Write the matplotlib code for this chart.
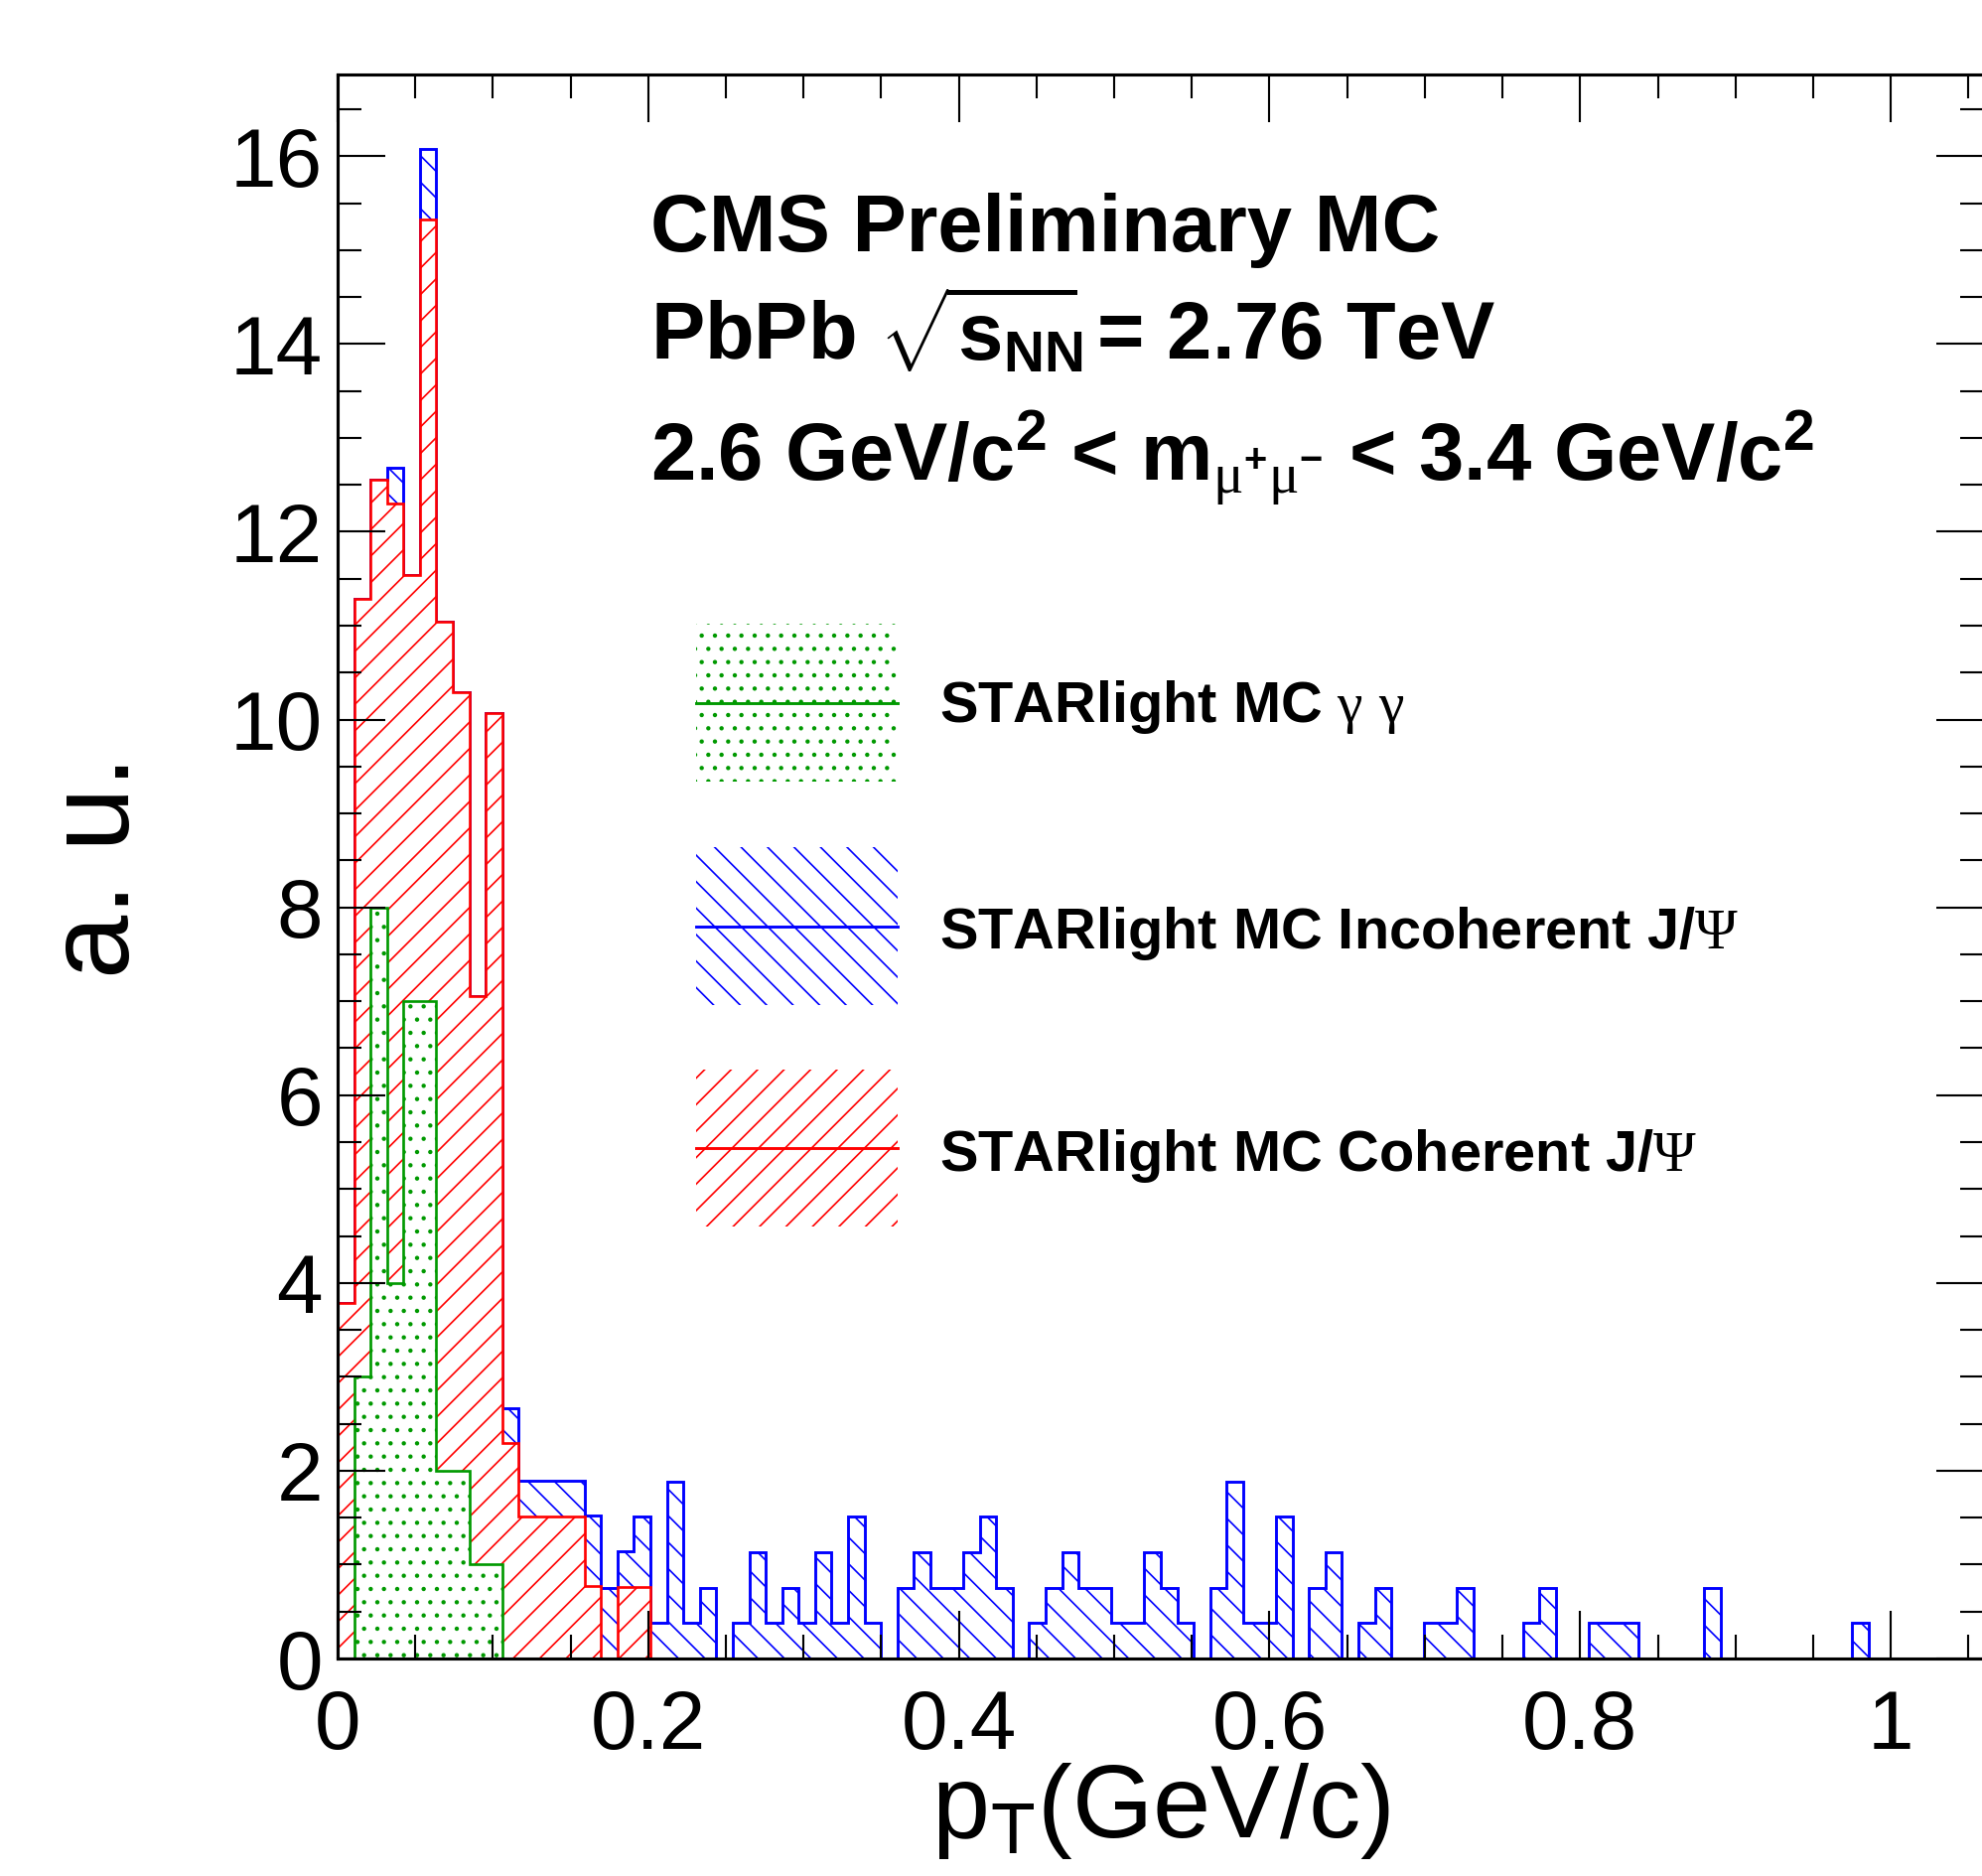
import numpy as np
import matplotlib
matplotlib.use("Agg")
import matplotlib.pyplot as plt
from matplotlib.patches import Rectangle
from matplotlib.lines import Line2D
from matplotlib.ticker import FixedLocator, MultipleLocator

# ---------------- data ----------------
n_bins = 100
pt_min, pt_max = 0.0, 1.06
bin_edges = np.linspace(pt_min, pt_max, n_bins + 1)

# STARlight MC gamma gamma (overlaid)
gamma_gamma = [
    0, 3, 8, 4, 7, 7, 2, 2, 1, 1,
    0, 0, 0, 0, 0, 0, 0, 0, 0, 0,
    0, 0, 0, 0, 0, 0, 0, 0, 0, 0,
    0, 0, 0, 0, 0, 0, 0, 0, 0, 0,
    0, 0, 0, 0, 0, 0, 0, 0, 0, 0,
    0, 0, 0, 0, 0, 0, 0, 0, 0, 0,
    0, 0, 0, 0, 0, 0, 0, 0, 0, 0,
    0, 0, 0, 0, 0, 0, 0, 0, 0, 0,
    0, 0, 0, 0, 0, 0, 0, 0, 0, 0,
    0, 0, 0, 0, 0, 0, 0, 0, 0, 0,
]

# STARlight MC coherent J/psi (bottom of stack)
coherent = [
    3.79, 11.29, 12.55, 12.30, 11.54, 15.33, 11.04, 10.29, 7.05, 10.07,
    2.29, 1.51, 1.51, 1.51, 1.51, 0.77, 0.00, 0.76, 0.76, 0.00,
    0, 0, 0, 0, 0, 0, 0, 0, 0, 0,
    0, 0, 0, 0, 0, 0, 0, 0, 0, 0,
    0, 0, 0, 0, 0, 0, 0, 0, 0, 0,
    0, 0, 0, 0, 0, 0, 0, 0, 0, 0,
    0, 0, 0, 0, 0, 0, 0, 0, 0, 0,
    0, 0, 0, 0, 0, 0, 0, 0, 0, 0,
    0, 0, 0, 0, 0, 0, 0, 0, 0, 0,
    0, 0, 0, 0, 0, 0, 0, 0, 0, 0,
]

# STARlight MC incoherent J/psi (stacked on coherent)
incoherent = [
    0.00, 0.00, 0.00, 0.38, 0.00, 0.75, 0.00, 0.00, 0.00, 0.00,
    0.38, 0.38, 0.38, 0.38, 0.38, 0.75, 0.75, 0.38, 0.75, 0.38,
    1.88, 0.38, 0.75, 0.00, 0.38, 1.13, 0.38, 0.75, 0.38, 1.13,
    0.38, 1.51, 0.38, 0.00, 0.75, 1.13, 0.75, 0.75, 1.13, 1.51,
    0.75, 0.00, 0.38, 0.75, 1.13, 0.75, 0.75, 0.38, 0.38, 1.13,
    0.75, 0.38, 0.00, 0.75, 1.88, 0.38, 0.38, 1.51, 0.00, 0.75,
    1.13, 0.00, 0.38, 0.75, 0.00, 0.00, 0.38, 0.38, 0.75, 0.00,
    0.00, 0.00, 0.38, 0.75, 0.00, 0.00, 0.38, 0.38, 0.38, 0.00,
    0.00, 0.00, 0.00, 0.75, 0.00, 0.00, 0.00, 0.00, 0.00, 0.00,
    0.00, 0.00, 0.38, 0.00, 0.00, 0.00, 0.00, 0.00, 0.00, 0.00,
]

xtick_vals = [0.0, 0.2, 0.4, 0.6, 0.8, 1.0]
xtick_labels = ["0", "0.2", "0.4", "0.6", "0.8", "1"]
ytick_vals = [0, 2, 4, 6, 8, 10, 12, 14, 16]
ytick_labels = ["0", "2", "4", "6", "8", "10", "12", "14", "16"]

legend_labels = [
    r"STARlight MC $\mathrm{\gamma}$ $\mathrm{\gamma}$",
    r"STARlight MC Incoherent J/$\mathrm{\Psi}$",
    r"STARlight MC Coherent J/$\mathrm{\Psi}$",
]
header_lines = [
    "CMS Preliminary MC",
    r"PbPb $\sqrt{\mathbf{s}_{\mathbf{NN}}\!\!}$ = 2.76 TeV",
    r"2.6 GeV/c$^{\mathbf{2}}$ < m$_{\mathrm{\mu}^{\mathbf{+}}\mathrm{\mu}^{\mathbf{-}}}$ < 3.4 GeV/c$^{\mathbf{2}}$",
]

# ---------------- style ----------------
GREEN = "#009900"
BLUE = "#0000ff"
RED = "#ff0000"

plt.rcParams["font.family"] = ["Liberation Sans", "DejaVu Sans"]
plt.rcParams["mathtext.fontset"] = "custom"
plt.rcParams["mathtext.rm"] = "Liberation Serif"
plt.rcParams["mathtext.sf"] = "Liberation Sans"
plt.rcParams["mathtext.bf"] = "Liberation Sans:bold"
plt.rcParams["mathtext.it"] = "Liberation Sans:italic"
plt.rcParams["hatch.linewidth"] = 0.75

DPI = 160
W, H = 1996, 1889
fig = plt.figure(figsize=(W / DPI, H / DPI), dpi=DPI)
fig.patch.set_facecolor("white")

ax_left, ax_right, ax_top, ax_bottom = 340, 1998, 75, 1670
ax = fig.add_axes([ax_left / W, (H - ax_bottom) / H,
                   (ax_right - ax_left) / W, (ax_bottom - ax_top) / H])
ax.set_xlim(pt_min, pt_max)
ax.set_ylim(0, 16.87)

total = np.array(coherent) + np.array(incoherent)
ax.stairs(total, bin_edges, baseline=0, fill=True, facecolor="white",
          edgecolor=BLUE, hatch="\\\\", linewidth=1.3, zorder=1.0)
ax.stairs(coherent, bin_edges, baseline=0, fill=True, facecolor="white",
          edgecolor=RED, hatch="//", linewidth=1.2, zorder=1.1)
ax.stairs(gamma_gamma, bin_edges, baseline=0, fill=True, facecolor="white",
          edgecolor=GREEN, hatch="..", linewidth=1.2, zorder=1.2)

for sp in ax.spines.values():
    sp.set_linewidth(1.4)
    sp.set_zorder(5)

ax.xaxis.set_major_locator(FixedLocator(xtick_vals))
ax.set_xticklabels(xtick_labels)
ax.xaxis.set_minor_locator(MultipleLocator(0.05))
ax.yaxis.set_major_locator(FixedLocator(ytick_vals))
ax.set_yticklabels(ytick_labels)
ax.yaxis.set_minor_locator(MultipleLocator(0.5))

ax.tick_params(which="major", direction="in", length=21.6, width=0.95,
               top=True, right=True, labelsize=37.7)
ax.tick_params(which="minor", direction="in", length=10.8, width=0.95,
               top=True, right=True)
ax.tick_params(axis="x", which="major", pad=13.5)
ax.tick_params(axis="y", which="major", pad=6.75)

ax.set_xlabel(r"p$_{\mathsf{T}}$(GeV/c)", fontsize=47, va="baseline")
ax.xaxis.set_label_coords(0.5, (ax_bottom - 1850) / (ax_bottom - ax_top))
ax.set_ylabel("a. u.", fontsize=52, rotation=90, va="baseline", ha="center",
              rotation_mode="anchor")
ax.yaxis.set_label_coords((130 - ax_left) / (ax_right - ax_left), 0.5)

# header text
header_base = [253, 363, 484]
for txt, yb in zip(header_lines, header_base):
    fig.text(655 / W, (H - yb) / H, txt, fontsize=36.6, fontweight="bold",
             ha="left", va="baseline")

# manual legend (no frame)
box_x0, box_x1 = 701, 904
rows = [
    (628, 787, 727, GREEN, ".."),
    (853, 1012, 955, BLUE, "\\\\"),
    (1077, 1235, 1179, RED, "//"),
]
for (yt, ybt, yb, col, hatch), lab in zip(rows, legend_labels):
    rect = Rectangle((box_x0 / W, (H - ybt) / H), (box_x1 - box_x0) / W,
                     (ybt - yt) / H, transform=fig.transFigure,
                     facecolor="none", edgecolor=col, linewidth=0, hatch=hatch)
    fig.add_artist(rect)
    yc = (H - (yt + ybt) / 2) / H
    fig.add_artist(Line2D([box_x0 / W, box_x1 / W], [yc, yc],
                          transform=fig.transFigure, color=col, linewidth=1.3))
    fig.text(946 / W, (H - yb) / H, lab, fontsize=26, fontweight="bold",
             ha="left", va="baseline")

fig.savefig("out.png", dpi=DPI, facecolor="white")
